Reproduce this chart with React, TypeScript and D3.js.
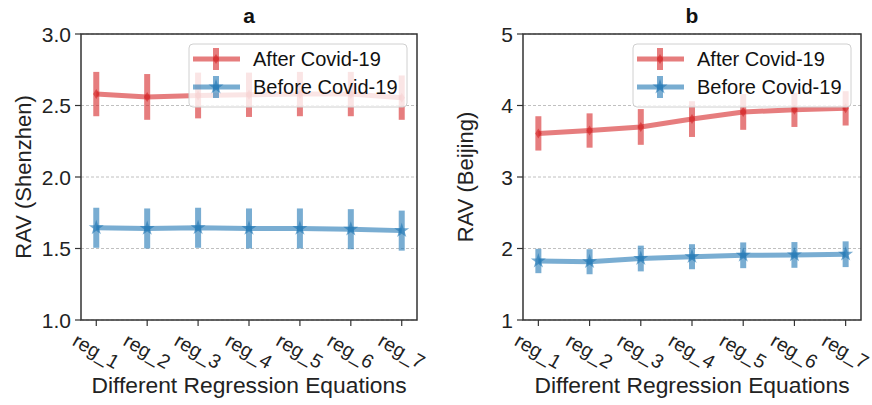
import React from "react";
import * as d3 from "d3";

// categories on the x axis
const categories = ["reg_1", "reg_2", "reg_3", "reg_4", "reg_5", "reg_6", "reg_7"];

// panel a: Shenzhen
const szAfter = [2.58, 2.56, 2.57, 2.575, 2.58, 2.58, 2.555];
const szAfterErr = [0.155, 0.16, 0.16, 0.155, 0.155, 0.155, 0.155];
const szBefore = [1.645, 1.64, 1.645, 1.64, 1.64, 1.635, 1.625];
const szBeforeErr = [0.14, 0.14, 0.14, 0.14, 0.14, 0.14, 0.14];
const szTicks = [1.0, 1.5, 2.0, 2.5, 3.0];

// panel b: Beijing
const bjAfter = [3.61, 3.65, 3.7, 3.81, 3.91, 3.94, 3.96];
const bjAfterErr = [0.24, 0.24, 0.25, 0.25, 0.25, 0.24, 0.24];
const bjBefore = [1.825, 1.815, 1.86, 1.885, 1.905, 1.91, 1.92];
const bjBeforeErr = [0.17, 0.175, 0.18, 0.175, 0.18, 0.18, 0.18];
const bjTicks = [1, 2, 3, 4, 5];

const RED = "#d62728";
const BLUE = "#1f77b4";
const FONT = "'Liberation Sans', Arial, sans-serif";
const ALPHA = 0.6;

const diamond = (x, y) => `M${x},${y - 5}L${x + 3.2},${y}L${x},${y + 5}L${x - 3.2},${y}Z`;
const star = d3.symbol().type(d3.symbolStar).size(70);

const Marker = ({ kind, x, y, color }) =>
  kind === "d" ? (
    <path d={diamond(x, y)} fill={color} opacity={ALPHA} />
  ) : (
    <path d={star()} transform={`translate(${x},${y})`} fill={color} opacity={ALPHA} />
  );

const Panel = ({ left, right, top, bottom, domain, ticks, fmt, yLabel, title, series }) => {
  const x = d3.scalePoint().domain(categories).range([left, right]).padding(0.3);
  const y = d3.scaleLinear().domain(domain).range([bottom, top]);
  const cx = (left + right) / 2;
  const cy = (top + bottom) / 2;
  const lg = { w: 218, h: 63 };
  const lgX = right - 10 - lg.w;
  const lgY = top + 10;

  return (
    <g fontFamily={FONT}>
      {/* grid */}
      {ticks.map((t) => (
        <line
          key={"g" + t}
          x1={left}
          x2={right}
          y1={y(t)}
          y2={y(t)}
          stroke="#b0b0b0"
          strokeWidth={0.8}
          strokeDasharray="3,2"
        />
      ))}
      {/* series: line, error bars, markers each with their own alpha */}
      {series.map((s) => {
        const line = d3
          .line<number>()
          .x((d, i) => x(categories[i]))
          .y((d) => y(d));
        return (
          <g key={s.name}>
            <path
              d={line(s.values)}
              fill="none"
              stroke={s.color}
              strokeWidth={5}
              strokeLinejoin="round"
              opacity={ALPHA}
            />
            {s.values.map((v, i) => (
              <rect
                key={i}
                x={x(categories[i]) - 3}
                width={6}
                y={y(v + s.err[i])}
                height={y(v - s.err[i]) - y(v + s.err[i])}
                fill={s.color}
                opacity={ALPHA}
              />
            ))}
            {s.values.map((v, i) => (
              <Marker key={"m" + i} kind={s.marker} x={x(categories[i])} y={y(v)} color={s.color} />
            ))}
          </g>
        );
      })}
      {/* frame */}
      <rect x={left} y={top} width={right - left} height={bottom - top} fill="none" stroke="#333" strokeWidth={1.5} />
      {/* y ticks */}
      {ticks.map((t) => (
        <g key={"t" + t}>
          <line x1={left - 6} x2={left} y1={y(t)} y2={y(t)} stroke="#333" strokeWidth={1.2} />
          <text x={left - 10} y={y(t)} textAnchor="end" dominantBaseline="central" fontSize={21} fill="#222">
            {fmt(t)}
          </text>
        </g>
      ))}
      {/* x ticks */}
      {categories.map((c) => (
        <g key={c}>
          <line x1={x(c)} x2={x(c)} y1={bottom} y2={bottom + 6} stroke="#333" strokeWidth={1.2} />
          <text
            transform={`translate(${x(c)},${bottom + 31}) rotate(30)`}
            textAnchor="middle"
            dominantBaseline="central"
            fontSize={19.5}
            fill="#222"
          >
            {c}
          </text>
        </g>
      ))}
      <text x={cx} y={393} textAnchor="middle" fontSize={22.8} fill="#222">
        Different Regression Equations
      </text>
      <text
        transform={`translate(${left - 58},${cy}) rotate(-90)`}
        textAnchor="middle"
        dominantBaseline="central"
        fontSize={22}
        fill="#222"
      >
        {yLabel}
      </text>
      <text x={cx} y={23} textAnchor="middle" fontSize={21} fontWeight="bold" fill="#111">
        {title}
      </text>
      {/* legend */}
      <rect x={lgX} y={lgY} width={lg.w} height={lg.h} rx={4} fill="white" fillOpacity={0.8} stroke="#d0d0d0" />
      {series.map((s, i) => {
        const ry = lgY + 15 + i * 28;
        const hx = lgX + 27;
        return (
          <g key={"l" + s.name}>
            <line x1={lgX + 4} x2={lgX + 51} y1={ry} y2={ry} stroke={s.color} strokeWidth={5} opacity={ALPHA} />
            <rect x={hx - 3} width={6} y={ry - 11} height={22} fill={s.color} opacity={ALPHA} />
            <Marker kind={s.marker} x={hx} y={ry} color={s.color} />
            <text x={lgX + 64} y={ry} dominantBaseline="central" fontSize={20} fill="#111">
              {s.name}
            </text>
          </g>
        );
      })}
    </g>
  );
};

export default function App() {
  const fmtA = d3.format(".1f");
  const fmtB = d3.format("d");
  return (
    <svg width={872} height={405} style={{ position: "absolute", left: 0, top: 0, background: "white" }}>
      <Panel
        left={81}
        right={417}
        top={34}
        bottom={320}
        domain={[1, 3]}
        ticks={szTicks}
        fmt={fmtA}
        yLabel="RAV (Shenzhen)"
        title="a"
        series={[
          { name: "After Covid-19", values: szAfter, err: szAfterErr, color: RED, marker: "d" },
          { name: "Before Covid-19", values: szBefore, err: szBeforeErr, color: BLUE, marker: "*" },
        ]}
      />
      <Panel
        left={523}
        right={861}
        top={34}
        bottom={320}
        domain={[1, 5]}
        ticks={bjTicks}
        fmt={fmtB}
        yLabel="RAV (Beijing)"
        title="b"
        series={[
          { name: "After Covid-19", values: bjAfter, err: bjAfterErr, color: RED, marker: "d" },
          { name: "Before Covid-19", values: bjBefore, err: bjBeforeErr, color: BLUE, marker: "*" },
        ]}
      />
    </svg>
  );
}
